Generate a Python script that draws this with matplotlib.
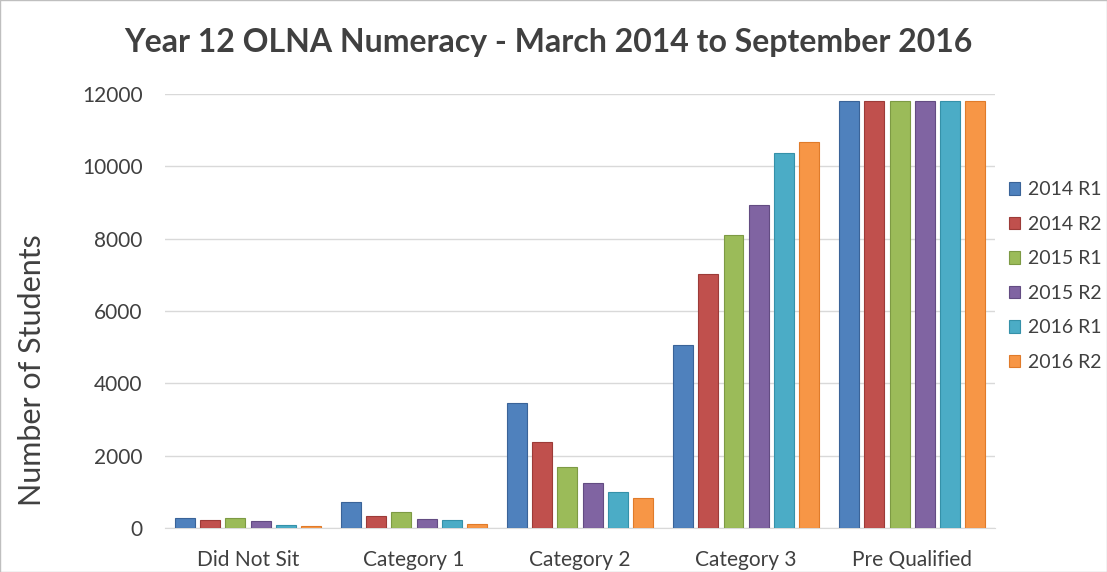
import numpy as np
import matplotlib.pyplot as plt

categories = ['Did Not Sit', 'Category 1', 'Category 2', 'Category 3', 'Pre Qualified']
series = ['2014 R1', '2014 R2', '2015 R1', '2015 R2', '2016 R1', '2016 R2']
r14_1 = [270, 730, 3450, 5050, 11800]
r14_2 = [220, 340, 2380, 7010, 11800]
r15_1 = [270, 430, 1690, 8100, 11800]
r15_2 = [190, 240, 1240, 8930, 11800]
r16_1 = [80, 210, 1000, 10360, 11800]
r16_2 = [50, 100, 830, 10660, 11800]
values = [r14_1, r14_2, r15_1, r15_2, r16_1, r16_2]
colors = ['#4F81BD', '#C0504D', '#9BBB59', '#8064A2', '#4BACC6', '#F79646']
edges = ['#3A6398', '#9C3B38', '#7D9A44', '#634C82', '#3591A9', '#E07B2A']

plt.rcParams['font.family'] = ['Lato', 'DejaVu Sans']

fig = plt.figure(figsize=(11.07, 5.72), dpi=100)
ax = fig.add_axes([0.149, 0.077, 0.75, 0.759])

x = np.arange(len(categories))
pitch = 0.152
width = 0.12
for i, (name, vals) in enumerate(zip(series, values)):
    ax.bar(x + (i - 2.5) * pitch, vals, width, color=colors[i],
           edgecolor=edges[i], linewidth=0.8, label=name, zorder=3)

ax.set_xlim(-0.5, len(categories) - 0.5)
ax.set_ylim(0, 12000)
ax.set_yticks(range(0, 12001, 2000))
ax.set_xticks(x)
ax.set_xticklabels(categories, fontsize=15, color='#404040')
ax.tick_params(axis='y', labelsize=15, labelcolor='#404040', length=0, pad=16)
ax.tick_params(axis='x', length=0, pad=16)
ax.grid(axis='y', color='#D9D9D9', linewidth=1, zorder=0)
for s in ['top', 'right', 'left']:
    ax.spines[s].set_visible(False)
ax.spines['bottom'].set_color('#D9D9D9')

ax.set_ylabel('Number of Students', fontsize=22, color='#404040')
ax.yaxis.set_label_coords(-0.143, 0.364)
fig.text(0.495, 0.925, 'Year 12 OLNA Numeracy - March 2014 to September 2016',
         ha='center', va='center', fontsize=23, fontweight='bold', color='#404040')

leg = ax.legend(loc='center left', bbox_to_anchor=(0.995, 0.58), frameon=False,
                fontsize=14, handlelength=0.6, handleheight=0.6,
                handletextpad=0.4, labelspacing=0.9)
for t in leg.get_texts():
    t.set_color('#404040')

fig.patches.append(plt.Rectangle((0, 0), 1, 1, transform=fig.transFigure,
                                 fill=False, edgecolor='#BFBFBF', linewidth=1))
fig.savefig('out.png', dpi=100)
